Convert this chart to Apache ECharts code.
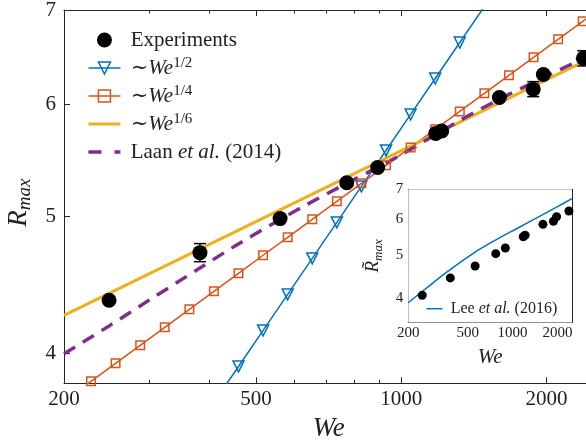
<!DOCTYPE html>
<html><head><meta charset="utf-8">
<script src="https://cdn.jsdelivr.net/npm/echarts@6/dist/echarts.min.js"></script>
<style>html,body{margin:0;padding:0;background:#fff}#c{width:586px;height:445px}</style>
</head><body><div id="c"></div>
<script>
// ---------- data ----------
const expWe = [248, 382.6, 560.8, 770.9, 893.6, 1178.6, 1212.8, 1597, 1877, 1970, 2384];
const expR  = [4.362, 4.714, 4.983, 5.282, 5.416, 5.725, 5.747, 6.070, 6.153, 6.302, 6.470];
const errWe = [382.6, 1877, 2384];
const errLo = [4.645, 6.078, 6.39];
const errHi = [4.784, 6.229, 6.55];
const halfWe = [409.0, 459.9, 517.2, 581.6, 653.9, 735.3, 826.8, 929.8, 1045.6, 1175.7, 1322.0, 1486.6];
const halfR  = [3.693, 3.916, 4.153, 4.404, 4.670, 4.952, 5.251, 5.568, 5.905, 6.261, 6.639, 7.040];
const quarterWe = [202.3, 227.5, 255.8, 287.7, 323.5, 363.8, 409.0, 459.9, 517.2, 581.6, 653.9, 735.3, 826.8, 929.8, 1045.6, 1175.7, 1322.0, 1486.6, 1671.6, 1879.7, 2113.6, 2376.7, 2672.6];
const quarterR  = [3.711, 3.822, 3.936, 4.053, 4.174, 4.298, 4.426, 4.558, 4.694, 4.833, 4.977, 5.125, 5.278, 5.435, 5.596, 5.763, 5.934, 6.111, 6.293, 6.480, 6.673, 6.872, 7.076];
const sixthWe = [200, 2500];
const sixthR  = [4.256, 6.485];
const laanWe = [200, 249, 301.5, 376.8, 467, 631.6, 789.6, 986, 1334.6, 1667, 2273, 2500];
const laanR  = [3.998, 4.187, 4.367, 4.582, 4.797, 5.090, 5.300, 5.515, 5.857, 6.098, 6.418, 6.52];
const insetR = [4.063, 4.441, 4.722, 5.030, 5.179, 5.488, 5.529, 5.848, 5.939, 6.081, 6.261];
const leeWe = [200, 258.8, 371.1, 532.6, 763.2, 1094, 1570, 2028, 2500];
const leeR  = [3.91, 4.19, 4.603, 5.015, 5.388, 5.747, 6.13, 6.42, 6.67];
const xMajorTicks = [200, 500, 1000, 2000];
const xMinorTicks = [300, 400, 600, 700, 800, 900];
const yTicks = [4, 5, 6, 7];
const xRange = [200, 2500];
const yRangeMain = [3.81, 7];
const yRangeInset = [3.533, 7];

// ---------- helpers ----------
const L = Math.log10;
const pairs = (xs, ys) => xs.map((x, i) => [L(x), L(ys[i])]);
const fmt = v => String(Math.round(Math.pow(10, v)));
const SERIF = '"Liberation Serif", "Times New Roman", "DejaVu Serif", serif';
const AX = '#262626', TXT = '#222';
const BLUE = '#0072BD', ORANGE = '#D95319', YELLOW = '#EDB120', PURPLE = '#7E2F8E';
const CLEAR = 'rgba(0,0,0,0)';

function mkX(grid, pos, vals, len, opts) {
  return Object.assign({
    type: 'value', gridIndex: grid, position: pos, min: L(xRange[0]), max: L(xRange[1]),
    splitLine: {show: false},
    axisLine: {show: true, onZero: false, lineStyle: {color: AX, width: 1}},
    axisTick: {show: true, inside: true, length: len, customValues: vals.map(L), lineStyle: {color: AX, width: 1}},
    axisLabel: {show: false}
  }, opts || {});
}
function mkY(grid, pos, range, len, opts) {
  return Object.assign({
    type: 'value', gridIndex: grid, position: pos, min: L(range[0]), max: L(range[1]),
    splitLine: {show: false},
    axisLine: {show: true, onZero: false, lineStyle: {color: AX, width: 1}},
    axisTick: {show: true, inside: true, length: len, customValues: yTicks.map(L), lineStyle: {color: AX, width: 1}},
    axisLabel: {show: false}
  }, opts || {});
}
const noLine = {show: false};

const chart = echarts.init(document.getElementById('c'), null, {renderer: 'canvas'});
const option = {
  animation: false,
  backgroundColor: '#fff',
  textStyle: {fontFamily: SERIF},
  grid: [
    {left: 64, top: 10, width: 529.3, height: 373.3, containLabel: false, outerBoundsMode: 'none'},
    {left: 408.3, top: 189.3, width: 163.7, height: 133.2, containLabel: false, outerBoundsMode: 'none',
     show: true, backgroundColor: '#fff', borderWidth: 0, z: 5}
  ],
  xAxis: [
    mkX(0, 'bottom', xMajorTicks, 6, {
      axisLabel: {show: true, customValues: xMajorTicks.map(L), formatter: fmt, fontSize: 21,
                  fontFamily: SERIF, color: TXT, margin: 6, lineHeight: 21},
      name: '{i|We}', nameLocation: 'middle', nameGap: 28,
      nameTextStyle: {rich: {i: {fontFamily: SERIF, fontStyle: 'italic', fontSize: 27, lineHeight: 30, color: TXT}}}
    }),
    mkX(0, 'bottom', xMinorTicks, 3.5, {axisLine: noLine}),
    mkX(0, 'top', xMajorTicks, 6),
    mkX(0, 'top', xMinorTicks, 3.5, {axisLine: noLine}),
    mkX(1, 'bottom', xMajorTicks, 3.5, {
      axisLabel: {show: true, customValues: xMajorTicks.map(L), formatter: fmt, fontSize: 15,
                  fontFamily: SERIF, color: TXT, margin: 3, lineHeight: 15},
      name: '{i|We}', nameLocation: 'middle', nameGap: 23,
      nameTextStyle: {rich: {i: {fontFamily: SERIF, fontStyle: 'italic', fontSize: 21, lineHeight: 24, color: TXT}}}
    }),
    mkX(1, 'bottom', xMinorTicks, 2, {axisLine: noLine}),
    mkX(1, 'top', xMajorTicks, 3.5),
    mkX(1, 'top', xMinorTicks, 2, {axisLine: noLine})
  ],
  yAxis: [
    mkY(0, 'left', yRangeMain, 6, {
      axisLabel: {show: true, customValues: yTicks.map(L), formatter: fmt, fontSize: 21,
                  fontFamily: SERIF, color: TXT, margin: 8},
      name: '{r|R}{s|max}', nameLocation: 'middle', nameRotate: 90, nameGap: 28.7,
      nameTextStyle: {rich: {
        r: {fontFamily: SERIF, fontStyle: 'italic', fontSize: 27, lineHeight: 32, color: TXT},
        s: {fontFamily: SERIF, fontStyle: 'italic', fontSize: 19, lineHeight: 16, verticalAlign: 'bottom', color: TXT, padding: [0, 12, 0, 0]}
      }}
    }),
    mkY(1, 'left', yRangeInset, 3.5, {
      axisLabel: {show: true, customValues: yTicks.map(L), formatter: fmt, fontSize: 15,
                  fontFamily: SERIF, color: TXT, margin: 5},
      name: '{r|R\u0303}{s|max}', nameLocation: 'middle', nameRotate: 90, nameGap: 23.3,
      nameTextStyle: {rich: {
        r: {fontFamily: SERIF, fontStyle: 'italic', fontSize: 19, lineHeight: 24, color: TXT},
        s: {fontFamily: SERIF, fontStyle: 'italic', fontSize: 13, lineHeight: 12, verticalAlign: 'bottom', color: TXT}
      }}
    }),
    mkY(1, 'right', yRangeInset, 3.5)
  ],
  legend: [
    {
      orient: 'vertical', left: 86.7, top: 28, itemWidth: 32, itemHeight: 15, itemGap: 4, padding: 0,
      selectedMode: false,
      data: [
        {name: 'Experiments', itemStyle: {opacity: 1}},
        {name: 'half', itemStyle: {color: CLEAR, borderColor: BLUE, borderWidth: 1.5}, lineStyle: {width: 1.5}},
        {name: 'quarter', itemStyle: {color: CLEAR, borderColor: ORANGE, borderWidth: 1.5}, lineStyle: {width: 1.5}},
        {name: 'sixth', itemStyle: {color: CLEAR, borderColor: CLEAR, borderWidth: 0}, lineStyle: {width: 3}},
        {name: 'laan', itemStyle: {color: CLEAR, borderColor: CLEAR, borderWidth: 0}, lineStyle: {width: 3.5, type: [13, 13]}}
      ],
      formatter: n => ({
        Experiments: ' Experiments',
        half: ' \u223C{i|We}{s|1/2}',
        quarter: ' \u223C{i|We}{s|1/4}',
        sixth: ' \u223C{i|We}{s|1/6}',
        laan: ' Laan {i|et al.} (2014)'
      })[n],
      textStyle: {fontFamily: SERIF, fontSize: 21, color: TXT, lineHeight: 24, rich: {
        i: {fontFamily: SERIF, fontStyle: 'italic', fontSize: 21, lineHeight: 24, color: TXT},
        s: {fontFamily: SERIF, fontSize: 15, lineHeight: 14, verticalAlign: 'top', color: TXT}
      }}
    },
    {
      orient: 'vertical', left: 425.7, top: 299.7, itemWidth: 16, itemHeight: 10, padding: 0, z: 10,
      selectedMode: false,
      data: [{name: 'lee', itemStyle: {color: CLEAR, borderColor: CLEAR, borderWidth: 0}, lineStyle: {width: 1.5}}],
      formatter: () => '\u2009Lee {i|et al.} (2016)',
      textStyle: {fontFamily: SERIF, fontSize: 16, color: TXT, lineHeight: 18, rich: {
        i: {fontFamily: SERIF, fontStyle: 'italic', fontSize: 16, lineHeight: 18, color: TXT}
      }}
    }
  ],
  series: [
    {name: 'half', type: 'line', xAxisIndex: 0, yAxisIndex: 0, data: pairs(halfWe, halfR), clip: true,
     symbol: 'triangle', symbolRotate: 180, symbolSize: 11, showSymbol: true,
     itemStyle: {color: CLEAR, borderColor: BLUE, borderWidth: 1.5},
     lineStyle: {color: BLUE, width: 1.5}, z: 2},
    {name: 'quarter', type: 'line', xAxisIndex: 0, yAxisIndex: 0, data: pairs(quarterWe, quarterR), clip: true,
     symbol: 'rect', symbolSize: 8.5, showSymbol: true,
     itemStyle: {color: CLEAR, borderColor: ORANGE, borderWidth: 1.5},
     lineStyle: {color: ORANGE, width: 1.5}, z: 2},
    {name: 'sixth', type: 'line', xAxisIndex: 0, yAxisIndex: 0, data: pairs(sixthWe, sixthR), clip: true,
     symbol: 'none', itemStyle: {color: YELLOW}, lineStyle: {color: YELLOW, width: 3}, z: 2},
    {name: 'laan', type: 'line', xAxisIndex: 0, yAxisIndex: 0, data: pairs(laanWe, laanR), clip: true,
     symbol: 'none', smooth: 0.3, itemStyle: {color: PURPLE}, lineStyle: {color: PURPLE, width: 3.5, type: [13, 9]}, z: 2},
    {name: 'errbars', type: 'custom', xAxisIndex: 0, yAxisIndex: 0, z: 3,
     data: errWe.map((w, i) => [L(w), L(errLo[i]), L(errHi[i])]),
     encode: {x: 0, y: [1, 2]},
     renderItem: (params, api) => {
       const x = api.value(0);
       const p1 = api.coord([x, api.value(1)]);
       const p2 = api.coord([x, api.value(2)]);
       const w = 6, st = {stroke: '#000', lineWidth: 1.5};
       return {type: 'group', children: [
         {type: 'line', shape: {x1: p1[0], y1: p1[1], x2: p2[0], y2: p2[1]}, style: st},
         {type: 'line', shape: {x1: p1[0] - w, y1: p1[1], x2: p1[0] + w, y2: p1[1]}, style: st},
         {type: 'line', shape: {x1: p2[0] - w, y1: p2[1], x2: p2[0] + w, y2: p2[1]}, style: st}
       ]};
     }},
    {name: 'Experiments', type: 'scatter', xAxisIndex: 0, yAxisIndex: 0, data: pairs(expWe, expR),
     symbol: 'circle', symbolSize: 15, itemStyle: {color: '#000', opacity: 1}, z: 4},
    {name: 'lee', type: 'line', xAxisIndex: 4, yAxisIndex: 1, data: pairs(leeWe, leeR), clip: true,
     symbol: 'none', smooth: 0.4, itemStyle: {color: BLUE}, lineStyle: {color: BLUE, width: 1.5}, z: 6},
    {name: 'insetExp', type: 'scatter', xAxisIndex: 4, yAxisIndex: 1, data: pairs(expWe, insetR),
     symbol: 'circle', symbolSize: 9, itemStyle: {color: '#000', opacity: 1}, z: 7}
  ]
};
chart.setOption(option);
</script>
</body></html>
